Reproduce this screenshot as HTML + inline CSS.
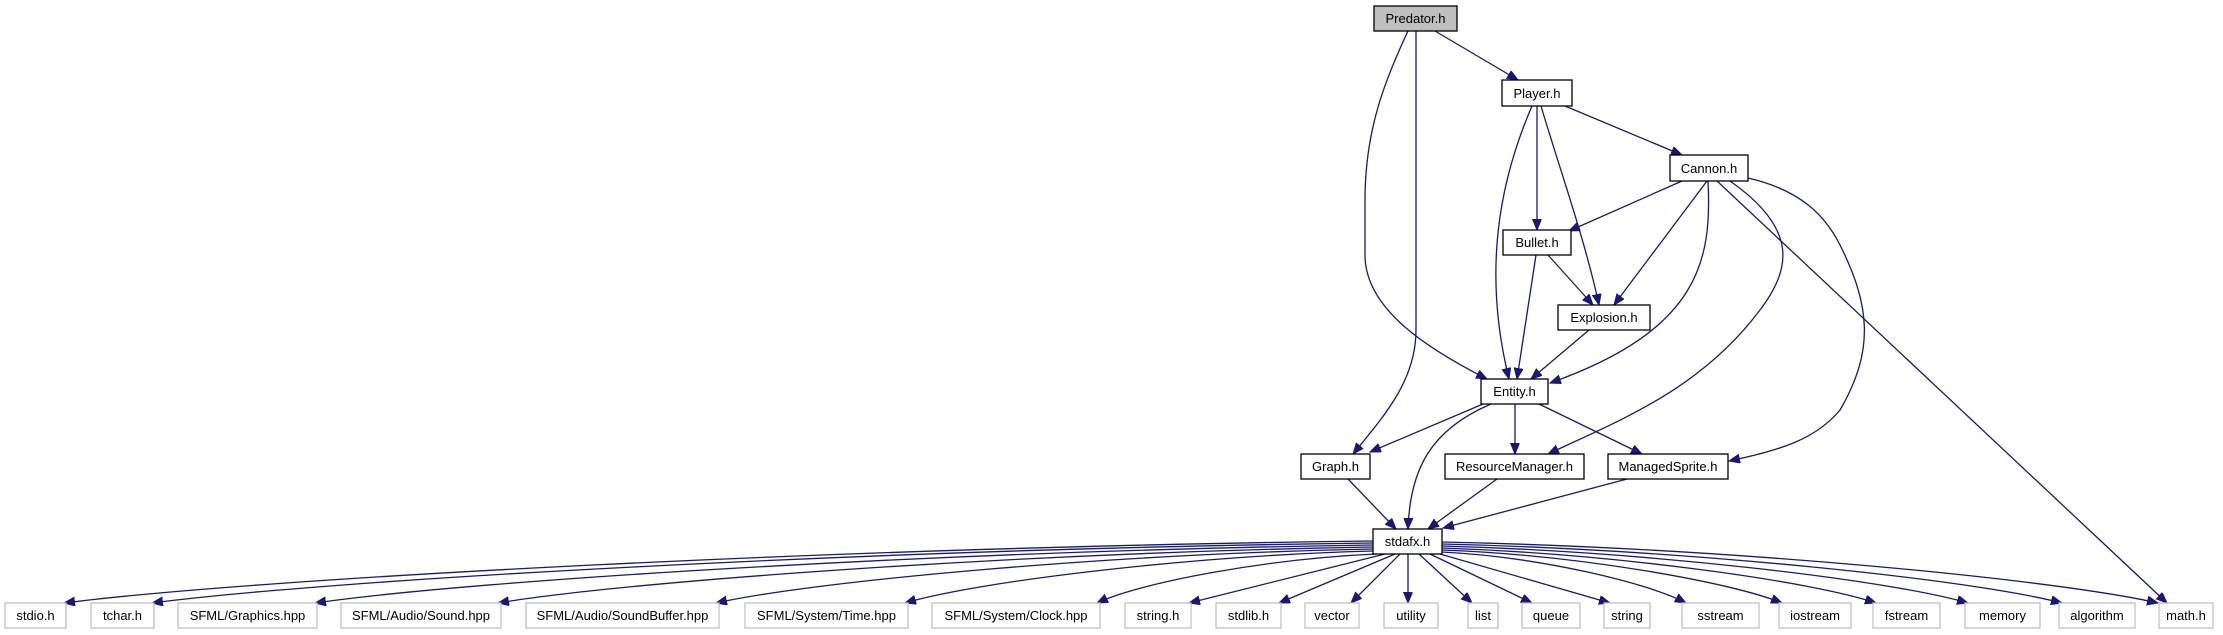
<!DOCTYPE html>
<html><head><meta charset="utf-8"><style>
html,body{margin:0;padding:0;background:#fff;}
svg{display:block;}
text{font-family:"Liberation Sans",Arial,sans-serif;font-size:13px;text-anchor:middle;fill:#000;}
.e{fill:none;stroke:#191970;stroke-width:1.3;marker-end:url(#a);}
.n{fill:#fff;stroke:#000;stroke-width:1.3;}
.g{fill:#fff;stroke:#bfbfbf;stroke-width:1.3;}
</style></head><body>
<svg width="2223" height="635" viewBox="0 0 2223 635" xmlns="http://www.w3.org/2000/svg">
<defs><marker id="a" markerUnits="userSpaceOnUse" markerWidth="12" markerHeight="10" refX="11" refY="4.5" orient="auto"><path d="M0,0 L11,4.5 L0,9 Z" fill="#191970" stroke="#191970"/></marker></defs>
<g>
<path class="e" d="M1435,31 L1518,80"/>
<path class="e" d="M1416,31 L1416,330 C1416,380 1385,415 1353,454"/>
<path class="e" d="M1408,31 C1385,80 1365,130 1365,200 L1365,255 C1365,310 1430,350 1487,379"/>
<path class="e" d="M1565,106 L1682,155"/>
<path class="e" d="M1537,106 L1537,230"/>
<path class="e" d="M1541,106 C1560,170 1585,240 1599,305"/>
<path class="e" d="M1532,106 C1500,180 1482,270 1509,379"/>
<path class="e" d="M1682,181 L1569,231"/>
<path class="e" d="M1707,181 L1614,305"/>
<path class="e" d="M1708,181 C1712,260 1700,330 1550,383"/>
<path class="e" d="M1730,181 C1800,230 1790,270 1760,310 C1700,390 1620,420 1548,454"/>
<path class="e" d="M1717,181 L2167,603"/>
<path class="e" d="M1748,178 C1800,190 1825,215 1840,245 C1870,305 1875,350 1840,410 C1815,440 1780,450 1729,461"/>
<path class="e" d="M1536,255 L1517,379"/>
<path class="e" d="M1548,255 L1593,305"/>
<path class="e" d="M1589,330 L1531,379"/>
<path class="e" d="M1483,404 L1370,452"/>
<path class="e" d="M1491,404 C1430,430 1410,470 1408,529"/>
<path class="e" d="M1515,404 L1515,454"/>
<path class="e" d="M1539,404 L1642,454"/>
<path class="e" d="M1348,479 L1396,529"/>
<path class="e" d="M1497,479 L1428,529"/>
<path class="e" d="M1627,479 L1443,528"/>
<!-- fan -->
<path class="e" d="M1373,541 C849,547 260,578 64,603"/>
<path class="e" d="M1373,543 C885,549 335,579 152,603"/>
<path class="e" d="M1373,545 C950,551 474,580 315,603"/>
<path class="e" d="M1373,547 C1023,553 629,581 498,603"/>
<path class="e" d="M1373,549 C1110,554 815,581 716,603"/>
<path class="e" d="M1373,551 C1186,556 975,582 905,603"/>
<path class="e" d="M1376,554 C1264,559 1139,583 1097,603"/>
<path class="e" d="M1385,554 L1189,603"/>
<path class="e" d="M1395,554 L1279,603"/>
<path class="e" d="M1400,554 L1351,603"/>
<path class="e" d="M1408,554 L1408,603"/>
<path class="e" d="M1419,554 L1472,603"/>
<path class="e" d="M1430,554 L1532,603"/>
<path class="e" d="M1440,554 L1610,603"/>
<path class="e" d="M1442,552 C1540,557 1649,583 1686,603"/>
<path class="e" d="M1442,550 C1578,555 1731,582 1782,603"/>
<path class="e" d="M1442,548 C1616,554 1811,581 1876,603"/>
<path class="e" d="M1442,546 C1652,552 1889,580 1968,603"/>
<path class="e" d="M1442,544 C1690,550 1969,579 2062,603"/>
<path class="e" d="M1442,542 C1729,548 2052,579 2158,603"/>
</g>
<g>
<rect x="1374" y="6" width="83" height="25" fill="#bfbfbf" stroke="#000" stroke-width="1.3"/><text x="1415.5" y="23">Predator.h</text>
<rect class="n" x="1502" y="80" width="70" height="26"/><text x="1537" y="98">Player.h</text>
<rect class="n" x="1670" y="155" width="78" height="26"/><text x="1709" y="173">Cannon.h</text>
<rect class="n" x="1503" y="230" width="68" height="25"/><text x="1537" y="247">Bullet.h</text>
<rect class="n" x="1558" y="305" width="92" height="25"/><text x="1604" y="322">Explosion.h</text>
<rect class="n" x="1481" y="379" width="67" height="25"/><text x="1514.5" y="396">Entity.h</text>
<rect class="n" x="1301" y="454" width="69" height="25"/><text x="1335.5" y="471">Graph.h</text>
<rect class="n" x="1445" y="454" width="139" height="25"/><text x="1514.5" y="471">ResourceManager.h</text>
<rect class="n" x="1608" y="454" width="120" height="25"/><text x="1668" y="471">ManagedSprite.h</text>
<rect class="n" x="1373" y="529" width="69" height="25"/><text x="1407.5" y="546">stdafx.h</text>
</g>
<g>
<rect class="g" x="5" y="603" width="61" height="25"/><text x="35.5" y="620">stdio.h</text>
<rect class="g" x="91" y="603" width="63" height="25"/><text x="122.5" y="620">tchar.h</text>
<rect class="g" x="178" y="603" width="139" height="25"/><text x="247.5" y="620">SFML/Graphics.hpp</text>
<rect class="g" x="341" y="603" width="160" height="25"/><text x="421" y="620">SFML/Audio/Sound.hpp</text>
<rect class="g" x="526" y="603" width="193" height="25"/><text x="622.5" y="620">SFML/Audio/SoundBuffer.hpp</text>
<rect class="g" x="745" y="603" width="163" height="25"/><text x="826.5" y="620">SFML/System/Time.hpp</text>
<rect class="g" x="932" y="603" width="168" height="25"/><text x="1016" y="620">SFML/System/Clock.hpp</text>
<rect class="g" x="1125" y="603" width="66" height="25"/><text x="1158" y="620">string.h</text>
<rect class="g" x="1216" y="603" width="65" height="25"/><text x="1248.5" y="620">stdlib.h</text>
<rect class="g" x="1305" y="603" width="54" height="25"/><text x="1332" y="620">vector</text>
<rect class="g" x="1384" y="603" width="54" height="25"/><text x="1411" y="620">utility</text>
<rect class="g" x="1468" y="603" width="30" height="25"/><text x="1483" y="620">list</text>
<rect class="g" x="1522" y="603" width="58" height="25"/><text x="1551" y="620">queue</text>
<rect class="g" x="1604" y="603" width="46" height="25"/><text x="1627" y="620">string</text>
<rect class="g" x="1682" y="603" width="77" height="25"/><text x="1720.5" y="620">sstream</text>
<rect class="g" x="1779" y="603" width="72" height="25"/><text x="1815" y="620">iostream</text>
<rect class="g" x="1873" y="603" width="67" height="25"/><text x="1906.5" y="620">fstream</text>
<rect class="g" x="1965" y="603" width="75" height="25"/><text x="2002.5" y="620">memory</text>
<rect class="g" x="2059" y="603" width="76" height="25"/><text x="2097" y="620">algorithm</text>
<rect class="g" x="2159" y="603" width="54" height="25"/><text x="2186" y="620">math.h</text>
</g>
</svg>
</body></html>
